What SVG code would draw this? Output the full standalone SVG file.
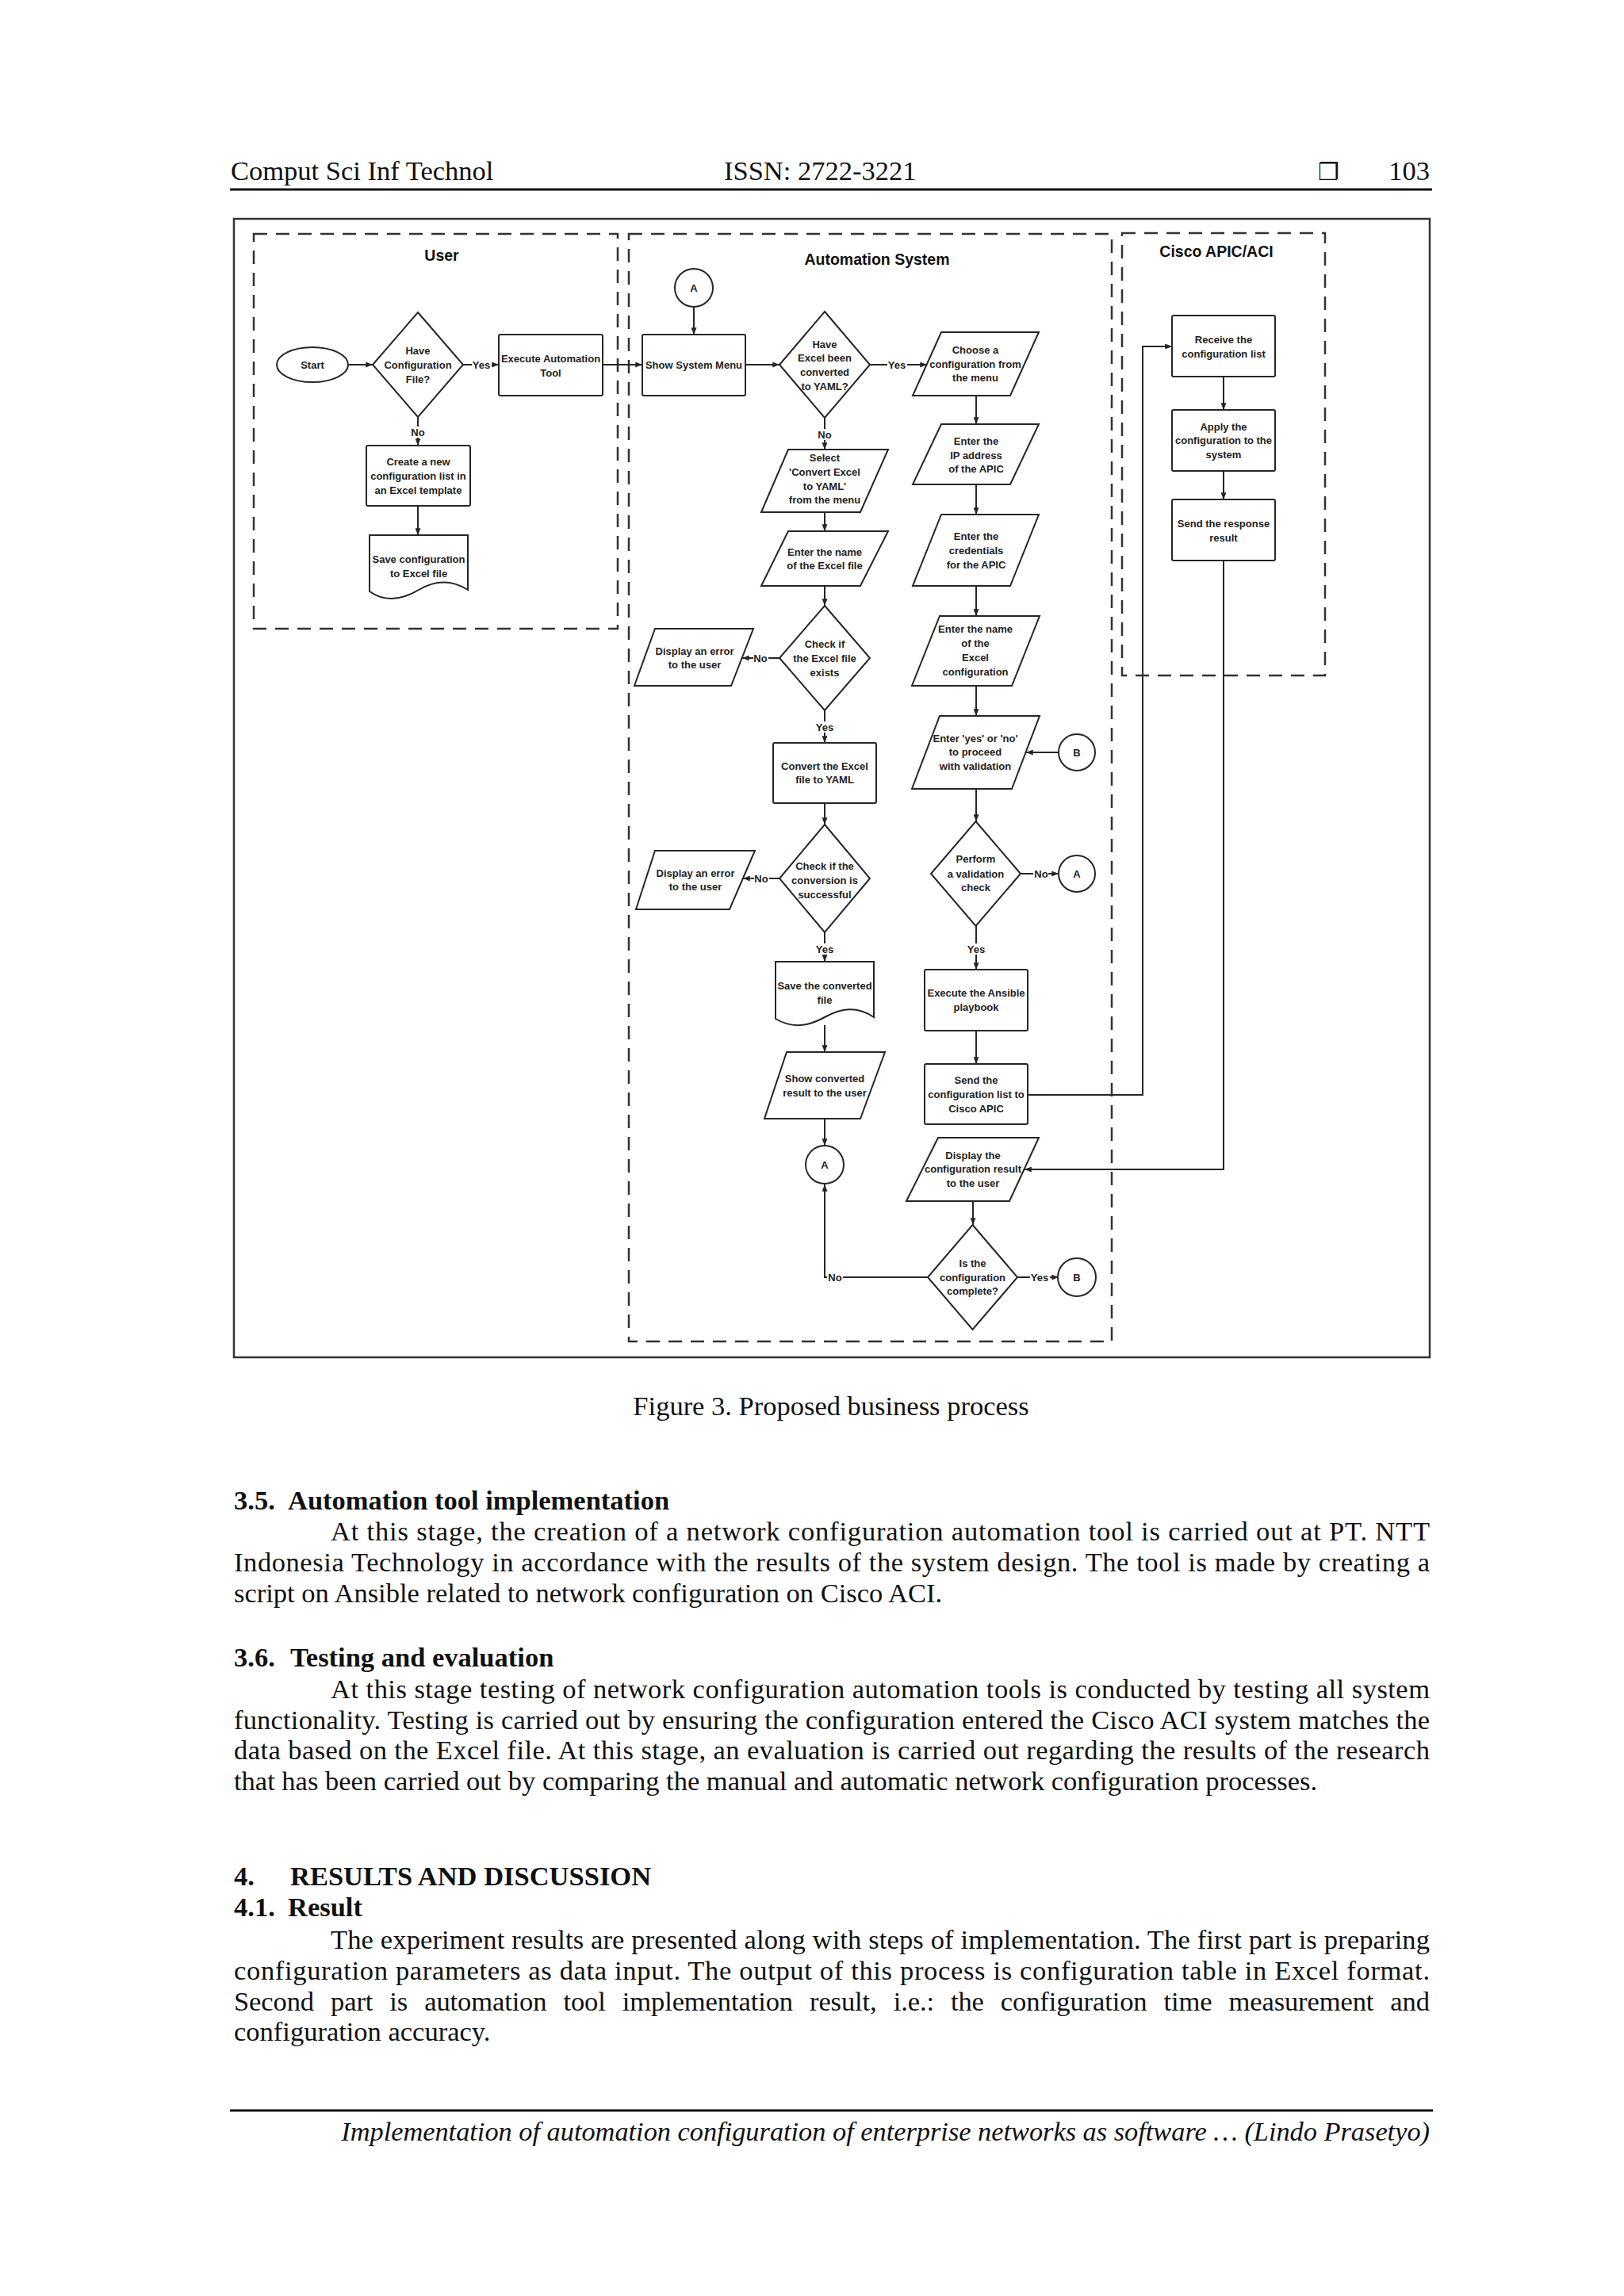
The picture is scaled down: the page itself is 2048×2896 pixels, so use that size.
<svg xmlns="http://www.w3.org/2000/svg" width="2048" height="2896" viewBox="0 0 2048 2896">
<defs>
<style>
.t{font-family:"Liberation Sans",Arial,sans-serif;font-size:13px;font-weight:bold;fill:#222;text-anchor:middle}
.lt{font-family:"Liberation Sans",Arial,sans-serif;font-size:19.5px;font-weight:bold;fill:#111;text-anchor:middle}
.s{fill:#fff;stroke:#262626;stroke-width:2}
.c{fill:none;stroke:#262626;stroke-width:2}
.ca{fill:none;stroke:#262626;stroke-width:2;marker-end:url(#ah)}
.lane{fill:none;stroke:#333;stroke-width:2.5;stroke-dasharray:17 11}
.bg{fill:#fff}
.b{font-family:"Liberation Serif","Times New Roman",serif;font-size:34.5px;fill:#111}
.bh{font-family:"Liberation Serif","Times New Roman",serif;font-size:34.5px;font-weight:bold;fill:#111}
.bi{font-family:"Liberation Serif","Times New Roman",serif;font-size:34.35px;font-style:italic;fill:#111}
</style>
<marker id="ah" viewBox="0 0 10 8" refX="10" refY="4" markerWidth="9" markerHeight="7" markerUnits="userSpaceOnUse" orient="auto">
<path d="M0,0 L10,4 L0,8 z" fill="#262626"/>
</marker>
</defs>
<rect width="2048" height="2896" fill="#fff"/>

<g id="page-header">
<text class="b" x="291" y="227">Comput Sci Inf Technol</text>
<text class="b" x="913" y="227">ISSN: 2722-3221</text>
<text x="1662" y="227" font-family="DejaVu Sans, sans-serif" font-size="30" fill="#111">❒</text>
<text class="b" x="1803" y="227" text-anchor="end">103</text>
<line x1="290" y1="239" x2="1806" y2="239" stroke="#111" stroke-width="3"/>
</g>

<g id="figure-frame">
<rect x="295" y="276" width="1508" height="1436" fill="none" stroke="#333" stroke-width="2.5"/>
</g>

<g id="lanes">
<rect class="lane" x="320" y="295" width="459" height="498"/>
<rect class="lane" x="793" y="295" width="609" height="1397"/>
<rect class="lane" x="1415" y="294" width="256" height="558"/>
<text class="lt" x="557" y="329">User</text>
<text class="lt" x="1106" y="334">Automation System</text>
<text class="lt" x="1534" y="324">Cisco APIC/ACI</text>
</g>

<g id="connectors">
<path class="ca" d="M439,460 H470"/>
<path class="ca" d="M584,460 H629"/>
<path class="ca" d="M527,526 V562"/>
<path class="ca" d="M527,638 V675"/>
<path class="ca" d="M760,460 H810"/>
<path class="ca" d="M875,387 V422"/>
<path class="ca" d="M940,460 H983"/>
<path class="ca" d="M1097,460 H1169"/>
<path class="ca" d="M1040,527 V567"/>
<path class="ca" d="M1231,499 V535"/>
<path class="ca" d="M1231,611 V649"/>
<path class="ca" d="M1231,739 V777"/>
<path class="ca" d="M1231,865 V903"/>
<path class="ca" d="M1231,995 V1036"/>
<path class="ca" d="M1335,949 H1294"/>
<path class="ca" d="M1287,1102 H1335"/>
<path class="ca" d="M1231,1168 V1223"/>
<path class="ca" d="M1231,1300 V1342"/>
<path class="ca" d="M1296,1381 H1441 V437 H1478"/>
<path class="ca" d="M1543,707 V1475 H1292"/>
<path class="ca" d="M1227,1515 V1545"/>
<path class="ca" d="M1283,1611 H1335"/>
<path class="ca" d="M1170,1611 H1040 V1494"/>
<path class="ca" d="M1040,646 V670"/>
<path class="ca" d="M1040,739 V764"/>
<path class="ca" d="M983,830 H936"/>
<path class="ca" d="M1040,896 V937"/>
<path class="ca" d="M1040,1013 V1040"/>
<path class="ca" d="M983,1108 H937"/>
<path class="ca" d="M1040,1176 V1213"/>
<path class="ca" d="M1040,1293 V1327"/>
<path class="ca" d="M1040,1411 V1445"/>
<path class="ca" d="M1543,475 V517"/>
<path class="ca" d="M1543,594 V630"/>
<g id="labels">
<rect class="bg" x="595" y="453" width="25" height="14"/><text class="t" x="607" y="465">Yes</text>
<rect class="bg" x="518" y="538" width="19" height="14"/><text class="t" x="527" y="550">No</text>
<rect class="bg" x="1119" y="453" width="25" height="14"/><text class="t" x="1131" y="465">Yes</text>
<rect class="bg" x="1030" y="541" width="19" height="14"/><text class="t" x="1040" y="553">No</text>
<rect class="bg" x="1303" y="1095" width="19" height="14"/><text class="t" x="1313" y="1107">No</text>
<rect class="bg" x="1219" y="1190" width="25" height="14"/><text class="t" x="1231" y="1202">Yes</text>
<rect class="bg" x="1299" y="1604" width="25" height="14"/><text class="t" x="1311" y="1616">Yes</text>
<rect class="bg" x="1043" y="1604" width="20" height="14"/><text class="t" x="1053" y="1616">No</text>
<rect class="bg" x="950" y="823" width="19" height="14"/><text class="t" x="959" y="835">No</text>
<rect class="bg" x="1028" y="910" width="25" height="14"/><text class="t" x="1040" y="922">Yes</text>
<rect class="bg" x="951" y="1101" width="19" height="14"/><text class="t" x="960" y="1113">No</text>
<rect class="bg" x="1028" y="1190" width="25" height="14"/><text class="t" x="1040" y="1202">Yes</text>
</g>
</g>

<g id="n-start"><ellipse class="s" cx="394" cy="460" rx="45" ry="22"/><text class="t" x="394" y="465">Start</text></g>
<g id="n-have-config"><polygon class="s" points="527,394 584,460 527,526 470,460"/><text class="t"><tspan x="527" y="447">Have</tspan><tspan x="527" y="465">Configuration</tspan><tspan x="527" y="483">File?</tspan></text></g>
<g id="n-execute-tool"><rect class="s" x="629" y="422" width="131" height="77" rx="2"/><text class="t"><tspan x="694.5" y="457">Execute Automation</tspan><tspan x="694.5" y="475">Tool</tspan></text></g>
<g id="n-create-list"><rect class="s" x="462" y="562" width="131" height="76" rx="2"/><text class="t"><tspan x="527.5" y="587">Create a new</tspan><tspan x="527.5" y="605">configuration list in</tspan><tspan x="527.5" y="623">an Excel template</tspan></text></g>
<g id="n-save-config"><path class="s" d="M466,675 H590 V744 C568,730 548,732 528,744 S486,760 466,746 Z"/><text class="t"><tspan x="528" y="710">Save configuration</tspan><tspan x="528" y="728">to Excel file</tspan></text></g>

<g id="n-a1"><circle class="s" cx="875" cy="363" r="24"/><text class="t" x="875" y="368">A</text></g>
<g id="n-show-menu"><rect class="s" x="810" y="422" width="130" height="77" rx="2"/><text class="t" x="875" y="465">Show System Menu</text></g>
<g id="n-have-excel"><polygon class="s" points="1040,393 1097,460 1040,527 983,460"/><text class="t"><tspan x="1040" y="439">Have</tspan><tspan x="1040" y="456">Excel been</tspan><tspan x="1040" y="474">converted</tspan><tspan x="1040" y="492">to YAML?</tspan></text></g>
<g id="n-choose-config"><polygon class="s" points="1187,419 1310,419 1274,499 1151,499"/><text class="t"><tspan x="1230" y="446">Choose a</tspan><tspan x="1230" y="464">configuration from</tspan><tspan x="1230" y="481">the menu</tspan></text></g>
<g id="n-enter-ip"><polygon class="s" points="1187,535 1310,535 1274,611 1151,611"/><text class="t"><tspan x="1231" y="561">Enter the</tspan><tspan x="1231" y="579">IP address</tspan><tspan x="1231" y="596">of the APIC</tspan></text></g>
<g id="n-enter-cred"><polygon class="s" points="1187,649 1310,649 1274,739 1151,739"/><text class="t"><tspan x="1231" y="681">Enter the</tspan><tspan x="1231" y="699">credentials</tspan><tspan x="1231" y="717">for the APIC</tspan></text></g>
<g id="n-enter-excel-config"><polygon class="s" points="1185,777 1311,777 1276,865 1150,865"/><text class="t"><tspan x="1230" y="798">Enter the name</tspan><tspan x="1230" y="816">of the</tspan><tspan x="1230" y="834">Excel</tspan><tspan x="1230" y="852">configuration</tspan></text></g>
<g id="n-enter-yes-no"><polygon class="s" points="1185,903 1311,903 1276,995 1150,995"/><text class="t"><tspan x="1230" y="936">Enter 'yes' or 'no'</tspan><tspan x="1230" y="953">to proceed</tspan><tspan x="1230" y="971">with validation</tspan></text></g>
<g id="n-b1"><circle class="s" cx="1358" cy="949" r="23"/><text class="t" x="1358" y="954">B</text></g>
<g id="n-validation"><polygon class="s" points="1230.5,1036 1287,1102 1230.5,1168 1174,1102"/><text class="t"><tspan x="1230.5" y="1088">Perform</tspan><tspan x="1230.5" y="1107">a validation</tspan><tspan x="1230.5" y="1124">check</tspan></text></g>
<g id="n-a2"><circle class="s" cx="1358" cy="1102" r="23"/><text class="t" x="1358" y="1107">A</text></g>
<g id="n-ansible"><rect class="s" x="1166" y="1223" width="130" height="77" rx="2"/><text class="t"><tspan x="1231" y="1257">Execute the Ansible</tspan><tspan x="1231" y="1275">playbook</tspan></text></g>
<g id="n-send-list"><rect class="s" x="1166" y="1342" width="130" height="76" rx="2"/><text class="t"><tspan x="1231" y="1367">Send the</tspan><tspan x="1231" y="1385">configuration list to</tspan><tspan x="1231" y="1403">Cisco APIC</tspan></text></g>
<g id="n-display-result"><polygon class="s" points="1183,1435 1310,1435 1273,1515 1143,1515"/><text class="t"><tspan x="1227" y="1462">Display the</tspan><tspan x="1227" y="1479">configuration result</tspan><tspan x="1227" y="1497">to the user</tspan></text></g>
<g id="n-complete"><polygon class="s" points="1226.5,1545 1283,1611 1226.5,1677 1170,1611"/><text class="t"><tspan x="1226.5" y="1598">Is the</tspan><tspan x="1226.5" y="1616">configuration</tspan><tspan x="1226.5" y="1633">complete?</tspan></text></g>
<g id="n-b2"><circle class="s" cx="1358" cy="1611" r="24"/><text class="t" x="1358" y="1616">B</text></g>

<g id="n-select-convert"><polygon class="s" points="994,567 1120,567 1085,646 960,646"/><text class="t"><tspan x="1040" y="582">Select</tspan><tspan x="1040" y="600">'Convert Excel</tspan><tspan x="1040" y="618">to YAML'</tspan><tspan x="1040" y="635">from the menu</tspan></text></g>
<g id="n-enter-excel-name"><polygon class="s" points="994,670 1120,670 1085,739 960,739"/><text class="t"><tspan x="1040" y="701">Enter the name</tspan><tspan x="1040" y="718">of the Excel file</tspan></text></g>
<g id="n-check-exists"><polygon class="s" points="1040,764 1097,830 1040,896 983,830"/><text class="t"><tspan x="1040" y="817">Check if</tspan><tspan x="1040" y="835">the Excel file</tspan><tspan x="1040" y="853">exists</tspan></text></g>
<g id="n-error1"><polygon class="s" points="826,793 950,793 922,865 800,865"/><text class="t"><tspan x="876" y="826">Display an error</tspan><tspan x="876" y="843">to the user</tspan></text></g>
<g id="n-convert"><rect class="s" x="975" y="937" width="130" height="76" rx="2"/><text class="t"><tspan x="1040" y="971">Convert the Excel</tspan><tspan x="1040" y="988">file to YAML</tspan></text></g>
<g id="n-check-conversion"><polygon class="s" points="1040,1040 1097,1108 1040,1176 983,1108"/><text class="t"><tspan x="1040" y="1097">Check if the</tspan><tspan x="1040" y="1115">conversion is</tspan><tspan x="1040" y="1133">successful</tspan></text></g>
<g id="n-error2"><polygon class="s" points="826,1073 952,1073 920,1147 802,1147"/><text class="t"><tspan x="877" y="1106">Display an error</tspan><tspan x="877" y="1123">to the user</tspan></text></g>
<g id="n-save-converted"><path class="s" d="M978,1213 H1102 V1283 C1080,1268 1060,1272 1040,1283 S1000,1298 978,1285 Z"/><text class="t"><tspan x="1040" y="1248">Save the converted</tspan><tspan x="1040" y="1266">file</tspan></text></g>
<g id="n-show-converted"><polygon class="s" points="992,1327 1116,1327 1085,1411 964,1411"/><text class="t"><tspan x="1040" y="1365">Show converted</tspan><tspan x="1040" y="1383">result to the user</tspan></text></g>
<g id="n-a3"><circle class="s" cx="1040" cy="1469" r="24"/><text class="t" x="1040" y="1474">A</text></g>

<g id="n-receive"><rect class="s" x="1478" y="398" width="130" height="77" rx="2"/><text class="t"><tspan x="1543" y="433">Receive the</tspan><tspan x="1543" y="451">configuration list</tspan></text></g>
<g id="n-apply"><rect class="s" x="1478" y="517" width="130" height="77" rx="2"/><text class="t"><tspan x="1543" y="543">Apply the</tspan><tspan x="1543" y="560">configuration to the</tspan><tspan x="1543" y="578">system</tspan></text></g>
<g id="n-send-response"><rect class="s" x="1478" y="630" width="130" height="77" rx="2"/><text class="t"><tspan x="1543" y="665">Send the response</tspan><tspan x="1543" y="683">result</tspan></text></g>

<g id="page-text">
<text class="b" x="1048" y="1785" text-anchor="middle">Figure 3. Proposed business process</text>

<text class="bh" x="295" y="1904">3.5.</text>
<text class="bh" x="363" y="1904">Automation tool implementation</text>
<text class="b" x="417" y="1943" textLength="1386" lengthAdjust="spacing">At this stage, the creation of a network configuration automation tool is carried out at PT. NTT</text>
<text class="b" x="295" y="1982" textLength="1508" lengthAdjust="spacing">Indonesia Technology in accordance with the results of the system design. The tool is made by creating a</text>
<text class="b" x="295" y="2021">script on Ansible related to network configuration on Cisco ACI.</text>

<text class="bh" x="295" y="2102">3.6.</text>
<text class="bh" x="366" y="2102">Testing and evaluation</text>
<text class="b" x="417" y="2142" textLength="1386" lengthAdjust="spacing">At this stage testing of network configuration automation tools is conducted by testing all system</text>
<text class="b" x="295" y="2181" textLength="1508" lengthAdjust="spacing">functionality. Testing is carried out by ensuring the configuration entered the Cisco ACI system matches the</text>
<text class="b" x="295" y="2219" textLength="1508" lengthAdjust="spacing">data based on the Excel file. At this stage, an evaluation is carried out regarding the results of the research</text>
<text class="b" x="295" y="2258">that has been carried out by comparing the manual and automatic network configuration processes.</text>

<text class="bh" x="295" y="2378">4.</text>
<text class="bh" x="366" y="2378">RESULTS AND DISCUSSION</text>
<text class="bh" x="295" y="2417">4.1.</text>
<text class="bh" x="363" y="2417">Result</text>
<text class="b" x="417" y="2458" textLength="1386" lengthAdjust="spacing">The experiment results are presented along with steps of implementation. The first part is preparing</text>
<text class="b" x="295" y="2497" textLength="1508" lengthAdjust="spacing">configuration parameters as data input. The output of this process is configuration table in Excel format.</text>
<text class="b" x="295" y="2536" word-spacing="12.5" textLength="1508" lengthAdjust="spacing">Second part is automation tool implementation result, i.e.: the configuration time measurement and</text>
<text class="b" x="295" y="2574">configuration accuracy.</text>
</g>

<g id="page-footer">
<line x1="290" y1="2662" x2="1807" y2="2662" stroke="#111" stroke-width="3"/>
<text class="bi" x="1803" y="2700" text-anchor="end">Implementation of automation configuration of enterprise networks as software … (Lindo Prasetyo)</text>
</g>
</svg>
